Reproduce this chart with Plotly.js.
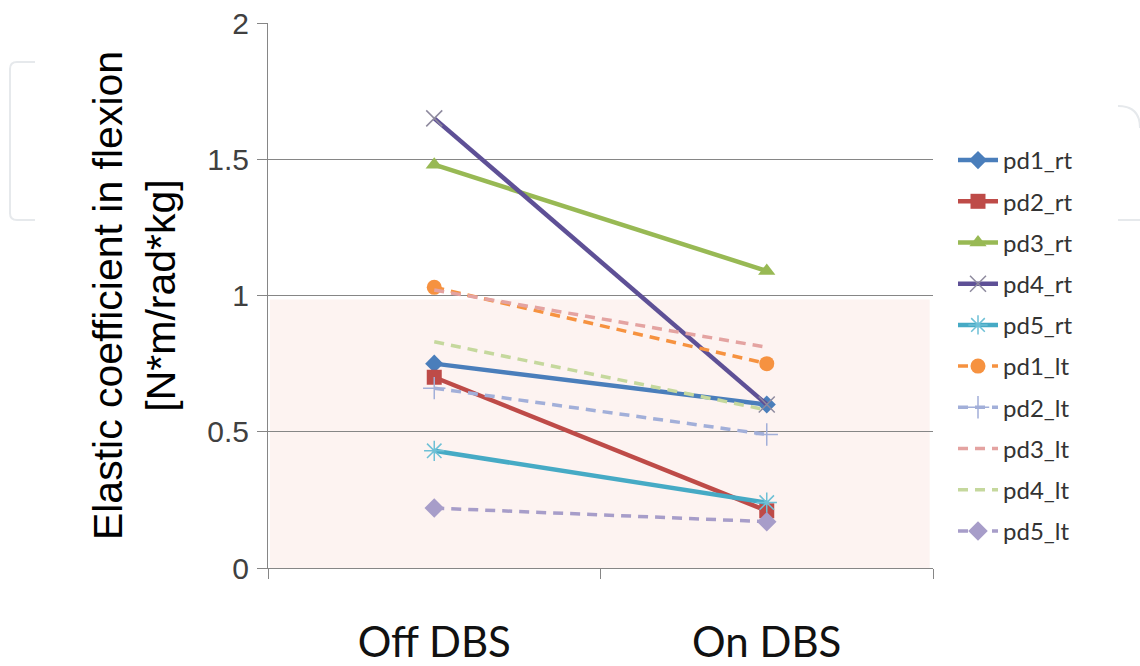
<!DOCTYPE html>
<html>
<head>
<meta charset="utf-8">
<script src="https://cdn.plot.ly/plotly-3.0.1.min.js"></script>
<style>html,body{margin:0;padding:0;background:#fff;}#chart{width:1140px;height:666px;}</style>
</head>
<body>
<div id="chart"></div>
<script>
var categories = ['Off DBS', 'On DBS'];
var seriesNames = ['pd1_rt','pd2_rt','pd3_rt','pd4_rt','pd5_rt','pd1_lt','pd2_lt','pd3_lt','pd4_lt','pd5_lt'];
var pd1_rt = [0.75, 0.60];
var pd2_rt = [0.70, 0.21];
var pd3_rt = [1.48, 1.09];
var pd4_rt = [1.65, 0.60];
var pd5_rt = [0.43, 0.24];
var pd1_lt = [1.03, 0.75];
var pd2_lt = [0.66, 0.49];
var pd3_lt = [1.02, 0.81];
var pd4_lt = [0.83, 0.58];
var pd5_lt = [0.22, 0.17];
var seriesValues = [pd1_rt, pd2_rt, pd3_rt, pd4_rt, pd5_rt, pd1_lt, pd2_lt, pd3_lt, pd4_lt, pd5_lt];
var yTicks = [0, 0.5, 1, 1.5, 2];
var yTickText = ['0', '0.5', '1', '1.5', '2'];

var styles = [
  {color:'#4A7EBB', dash:'solid', symbol:'diamond', size:14, mline:'#4A7EBB', mw:0},
  {color:'#BE4B48', dash:'solid', symbol:'square', size:15, mline:'#BE4B48', mw:0},
  {color:'#98B954', dash:'solid', symbol:'triangle-up', size:15, mline:'#98B954', mw:0},
  {color:'#5E5096', dash:'solid', symbol:'x-thin', size:16, mline:'#8E8A9E', mw:1.5},
  {color:'#46AAC5', dash:'solid', symbol:'asterisk', size:17, mline:'#6EC0D6', mw:1.5},
  {color:'#F69240', dash:'10px,7px', symbol:'circle', size:15, mline:'#F69240', mw:0},
  {color:'#A2AFD9', dash:'10px,7px', symbol:'cross-thin', size:16, mline:'#A2AFD9', mw:1.5},
  {color:'#E4A3A1', dash:'10px,7px', symbol:'line-ew', size:10, mline:'#E4A3A1', mw:0},
  {color:'#C5D89D', dash:'10px,7px', symbol:'line-ew', size:10, mline:'#C5D89D', mw:0},
  {color:'#A79DC9', dash:'10px,7px', symbol:'diamond', size:15, mline:'#A79DC9', mw:0}
];

var traces = seriesNames.map(function(name, i){
  var s = styles[i];
  return {
    type:'scatter', mode:'lines+markers', name:name,
    x: categories, y: seriesValues[i],
    legendgroup: 'g'+i,
    line:{color:s.color, width: s.dash==='solid'?4.5:3.5, dash:s.dash},
    marker:{symbol:s.symbol, size:s.size, color:s.color, line:{color:s.mline, width:s.mw}}
  };
});

// plot area in pixels
var L = 268, T = 23, W = 665, H = 545;
function px(x){ return ((x - L)/W).toFixed(4); }
function py(y){ return ((T + H - y)/H).toFixed(4); }
function P(x,y){ return px(x)+','+py(y); }

var shapes = [
  {type:'rect', xref:'paper', yref:'y', x0:0.003, x1:0.995, y0:0, y1:0.985,
   fillcolor:'#FDF3F1', line:{width:0}, layer:'below'},
  {type:'path', xref:'paper', yref:'paper', layer:'below',
   path:'M '+P(35,62)+' L '+P(17,62)+' Q '+P(10,62)+' '+P(10,69)+' L '+P(10,213)+' Q '+P(10,220)+' '+P(17,220)+' L '+P(35,220),
   line:{color:'#E6E9EC', width:2}},
  {type:'path', xref:'paper', yref:'paper', layer:'below',
   path:'M '+P(1118,106)+' Q '+P(1140,106)+' '+P(1140,128),
   line:{color:'#E6E9EC', width:2}},
  {type:'path', xref:'paper', yref:'paper', layer:'below',
   path:'M '+P(1118,220)+' L '+P(1140,220),
   line:{color:'#E6E9EC', width:2}}
];

var layout = {
  width:1140, height:666,
  margin:{l:L, r:1140-L-W, t:T, b:666-T-H},
  paper_bgcolor:'#ffffff', plot_bgcolor:'rgba(0,0,0,0)',
  showlegend:true,
  legend:{x:(953-L)/W, xanchor:'left', y:(568-138)/545, yanchor:'top',
    font:{family:'Lato, "Open Sans", sans-serif', size:24, color:'#333333'},
    bgcolor:'rgba(0,0,0,0)', traceorder:'grouped', tracegroupgap:7, itemwidth:40},
  xaxis:{type:'category', range:[-0.5,1.5], showline:true, linecolor:'#868686', linewidth:1,
    ticks:'outside', tickson:'boundaries', ticklen:10, tickcolor:'#868686',
    showgrid:false, zeroline:false, ticklabelstandoff:38,
    tickfont:{family:'Lato, "Open Sans", sans-serif', size:42, color:'#111111'}},
  yaxis:{range:[0,2], tickvals:yTicks, ticktext:yTickText, showline:true, linecolor:'#868686', linewidth:1,
    ticks:'outside', ticklen:10, tickcolor:'#868686', showgrid:true, gridcolor:'#868686', gridwidth:1,
    zeroline:false, ticklabelstandoff:2,
    tickfont:{family:'Arial, "Liberation Sans", sans-serif', size:30, color:'#404040'},
    title:{text:'Elastic coefficient in flexion<br>[N*m/rad*kg]', standoff:18,
      font:{family:'Arial, "Liberation Sans", sans-serif', size:41, color:'#000000'}}},
  shapes:shapes
};

Plotly.newPlot('chart', traces, layout, {displayModeBar:false, staticPlot:true});
</script>
</body>
</html>
